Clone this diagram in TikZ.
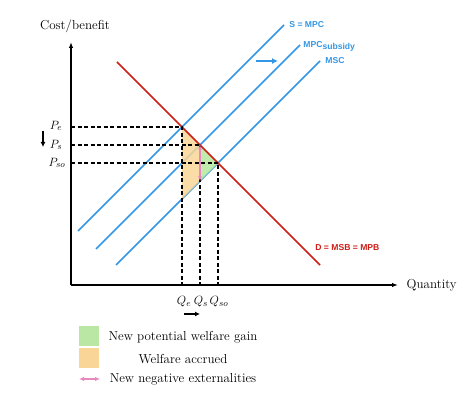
\documentclass[tikz,border=0pt]{standalone}
\usepackage{fontspec}
\newfontfamily\tagfont{Liberation Sans}
\usetikzlibrary{arrows.meta}
\definecolor{curveblue}{RGB}{52,150,228}
\definecolor{curvered}{RGB}{204,30,22}
\definecolor{gaingreen}{RGB}{186,232,164}
\definecolor{accruedorange}{RGB}{249,214,152}
\definecolor{extpink}{RGB}{232,136,190}
\begin{document}
\begin{tikzpicture}[x=1pt, y=-1pt, thick,
		mpc/.style = {draw=curveblue, line width=1.6pt},
		msb/.style = {draw=curvered, line width=1.6pt},
		guide/.style = {line width=1.1pt, dash pattern=on 4pt off 2.5pt},
		bluetag/.style = {text=curveblue, anchor=west, inner sep=1pt, font=\tagfont\bfseries\fontsize{8.6}{10}\selectfont},
		key/.style = {minimum size=20pt, inner sep=0pt},
		serif/.style = {font=\fontsize{13}{15}\selectfont},
		price/.style = {font=\fontsize{13}{15}\selectfont, inner sep=1pt}]
		\useasboundingbox (0,0) rectangle (474,398);
		\coordinate (O) at (71,285);
		\coordinate (ytop) at (71,42);
		\coordinate (xend) at (398,285);
		\coordinate (e) at (182,127);
		\coordinate (s) at (200,145);
		\coordinate (so) at (218,163);
		\coordinate (ms) at (200,181);
		\coordinate (mq) at (182,199);
		\coordinate (mpc1) at (78,231);
		\coordinate (mpc2) at (284,25);
		\coordinate (sub1) at (96,249);
		\coordinate (sub2) at (300,45);
		\coordinate (msc1) at (116,265);
		\coordinate (msc2) at (320,61);
		\coordinate (d1) at (117,62);
		\coordinate (d2) at (320,265);
		\path[mpc]
			(mpc1) edge (mpc2)
			(sub1) edge (sub2)
			(msc1) edge (msc2);
		\fill[accruedorange, opacity=0.85] (e) -- (s) -- (ms) -- (mq) -- cycle;
		\fill[gaingreen, opacity=0.9] (s) -- (so) -- (ms) -- cycle;
		\draw[msb] (d1) -- (d2);
		\foreach \p in {e, s, so} {
			\draw[guide] (ytop |- \p) -- (\p) -- (\p |- O);
		}
		\draw[line width=1.2pt, -{Latex[length=6pt, width=4.5pt]}] (O) -- (ytop);
		\draw[line width=1.2pt, -{Latex[length=6pt, width=4.5pt]}] (O) -- (xend);
		\draw[extpink, line width=1.2pt, {Latex[length=4.5pt, width=4pt]}-{Latex[length=4.5pt, width=4pt]}] (s) -- (ms);
		\node (cb) at (75,26) [serif] {Cost/benefit};
		\node (qty) at (xend) [serif, anchor=west, xshift=5pt] {Quantity};
		\node (mpclbl) at (mpc2) [bluetag, xshift=4pt] {S = MPC};
		\node (sublbl) at (sub2) [bluetag, xshift=2pt, yshift=-1pt] {MPC\raisebox{-0.45ex}{subsidy}};
		\node (msclbl) at (msc2) [bluetag, xshift=4pt] {MSC};
		\node (dlbl) at (314,248) [bluetag, text=curvered] {D = MSB = MPB};
		\coordinate (shift1) at (256,61);
		\coordinate (shift2) at (278,61);
		\draw[curveblue, line width=2pt, -{Latex[length=6pt, width=6pt]}] (shift1) -- (shift2);
		\node (Pe) at (56,126) [price] {$P_e$};
		\node (Ps) at (56,145) [price] {$P_s$};
		\node (Pso) at (57,163) [price] {$P_{so}$};
		\coordinate (pdown1) at (43,131);
		\coordinate (pdown2) at (43,147);
		\draw[line width=1.4pt, -{Latex[length=5pt, width=5pt]}] (pdown1) -- (pdown2);
		\node (Qe) at (184,302) [price] {$Q_e$};
		\node (Qs) at (201,302) [price] {$Q_s$};
		\node (Qso) at (219,302) [price] {$Q_{so}$};
		\coordinate (qright1) at (184,314);
		\coordinate (qright2) at (200,314);
		\draw[line width=1.4pt, -{Latex[length=5pt, width=5pt]}] (qright1) -- (qright2);
		\node (gainkey) at (89,336) [key, fill=gaingreen] {};
		\node (accruedkey) at (89,358) [key, fill=accruedorange] {};
		\coordinate (extkey1) at (79,379);
		\coordinate (extkey2) at (100,379);
		\draw[extpink, line width=1.2pt, {Latex[length=5pt, width=4.5pt]}-{Latex[length=5pt, width=4.5pt]}] (extkey1) -- (extkey2);
		\node (gaintxt) at (183,337) [serif] {New potential welfare gain};
		\node (accruedtxt) at (183,359) [serif] {Welfare accrued};
		\node (exttxt) at (183,379) [serif] {New negative externalities};
	\end{tikzpicture}
\end{document}
